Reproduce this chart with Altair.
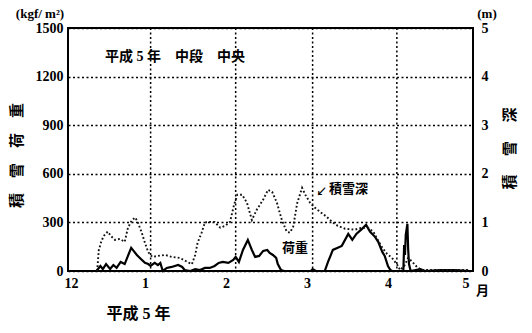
import altair as alt
import pandas as pd

# ---- data (x in months from 1 Dec; load in kgf/m2; depth in m) ----
load_month = [0.35, 0.40, 0.43, 0.47, 0.52, 0.56, 0.60, 0.65, 0.70, 0.74, 0.78, 0.81, 0.85, 0.90, 0.95,
              0.99, 1.02, 1.07, 1.11, 1.14, 1.17, 1.22, 1.28, 1.36, 1.41, 1.44, 1.51, 1.57, 1.63, 1.69,
              1.75, 1.81, 1.86, 1.91, 1.98, 2.04, 2.07, 2.11, 2.16, 2.22, 2.27, 2.31, 2.36, 2.41, 2.46,
              2.49, 2.53, 2.57, 2.59, 2.63, 2.67, 3.00, 3.02, 3.06, 3.17, 3.21, 3.27, 3.38, 3.46, 3.51,
              3.56, 3.63, 3.68, 3.73, 3.79, 3.83, 3.88, 3.91, 3.95, 3.98, 4.00, 4.14, 4.15, 4.16, 4.17,
              4.19, 4.20, 4.21, 4.23, 4.35, 4.41, 4.59, 4.78, 4.96]
load_kgf = [0, 31, 12, 43, 12, 37, 19, 56, 43, 93, 143, 124, 99, 74, 50,
            43, 31, 50, 37, 50, 0, 19, 25, 37, 25, 6, 0, 12, 6, 19,
            19, 31, 50, 56, 50, 68, 87, 56, 130, 192, 130, 87, 93, 124, 130,
            112, 99, 81, 43, 6, 0, 0, 12, 0, 0, 56, 130, 155, 229, 192,
            229, 260, 285, 242, 211, 180, 118, 93, 31, 6, 0, 0, 161, 99, 223,
            291, 130, 43, 0, 12, 0, 6, 6, 0]

depth_month = [0.36, 0.38, 0.41, 0.44, 0.49, 0.53, 0.58, 0.64, 0.70, 0.74, 0.79, 0.83, 0.86, 0.91, 0.95,
               0.99, 1.04, 1.11, 1.20, 1.28, 1.38, 1.47, 1.53, 1.57, 1.60, 1.65, 1.69, 1.75, 1.81, 1.88,
               1.94, 2.00, 2.05, 2.09, 2.15, 2.21, 2.27, 2.33, 2.41, 2.47, 2.52, 2.58, 2.64, 2.70, 2.74,
               2.78, 2.83, 2.89, 2.93, 2.99, 3.05, 3.11, 3.19, 3.26, 3.33, 3.42, 3.54, 3.63, 3.70, 3.77,
               3.81, 3.88, 3.94, 4.00, 4.06, 4.10, 4.15, 4.20, 4.25, 4.31, 4.37, 4.47, 4.65, 4.96]
depth_m = [0.00, 0.43, 0.60, 0.72, 0.81, 0.72, 0.64, 0.66, 0.60, 0.89, 1.05, 1.10, 1.01, 0.79, 0.58,
           0.39, 0.29, 0.31, 0.33, 0.29, 0.27, 0.19, 0.14, 0.33, 0.58, 0.79, 1.00, 1.01, 1.01, 0.89,
           0.93, 1.01, 1.36, 1.57, 1.57, 1.40, 1.05, 1.26, 1.47, 1.67, 1.63, 1.40, 1.05, 0.81, 0.79,
           0.91, 1.40, 1.71, 1.57, 1.40, 1.30, 1.22, 1.12, 1.01, 0.93, 0.87, 0.85, 0.89, 0.89, 0.81,
           0.68, 0.48, 0.35, 0.27, 0.14, 0.02, 0.10, 0.27, 0.19, 0.08, 0.02, 0.02, 0.02, 0.02]

grid_month = [1.02, 2.07, 3.02, 4.06]
x_ticks = [0, 1, 2, 3, 4, 5]
left_ticks = [0, 300, 600, 900, 1200, 1500]
right_ticks = [0, 1, 2, 3, 4, 5]

SERIF = "Liberation Serif, Noto Sans CJK JP"
CJK = "Noto Sans CJK JP"

load_df = pd.DataFrame({"m": load_month, "v": load_kgf})
depth_df = pd.DataFrame({"m": depth_month, "d": depth_m})
grid_df = pd.DataFrame({"m": grid_month})

xscale = alt.Scale(domain=[0, 5], nice=False, zero=False)

x_axis = alt.Axis(values=x_ticks,
                  labelExpr="datum.value == 0 ? '12' : format(datum.value, 'd')",
                  grid=False, ticks=False, domain=False,
                  labelFont=SERIF, labelFontSize=14, labelFontWeight="bold", labelColor="black",
                  labelPadding=5, labelOffset=-4,
                  title="平成 5 年", titleFont=SERIF, titleFontSize=16, titleFontWeight="bold",
                  titleColor="black", titleX=70, titleY=42, titleAlign="center", titleBaseline="middle")

left_axis = alt.Axis(values=left_ticks, format="d", grid=True, gridDash=[2, 2.5], gridColor="black",
                     gridWidth=1.5, ticks=False, domain=False,
                     labelFont=SERIF, labelFontSize=14, labelFontWeight="bold", labelColor="black",
                     labelPadding=5,
                     title="積　雪　荷　重", titleFont=CJK, titleFontSize=15, titleFontWeight="bold",
                     titleColor="black", titleAngle=270, titleX=-52, titleY=127,
                     titleAlign="center", titleBaseline="middle")

right_axis = alt.Axis(orient="right", values=right_ticks, format="d", grid=False, ticks=False,
                      domain=False,
                      labelFont=SERIF, labelFontSize=14, labelFontWeight="bold", labelColor="black",
                      labelPadding=8,
                      title="積　 雪　 深", titleFont=CJK, titleFontSize=15, titleFontWeight="bold",
                      titleColor="black", titleAngle=270, titleX=36, titleY=120,
                      titleAlign="center", titleBaseline="middle")

xenc = alt.X("m:Q", scale=xscale, axis=x_axis)

vgrid = alt.Chart(grid_df).mark_rule(color="black", strokeWidth=1.5, strokeDash=[2, 2.5]).encode(
    x=xenc
)

load = alt.Chart(load_df).mark_line(color="black", strokeWidth=2.2).encode(
    x=xenc,
    y=alt.Y("v:Q", scale=alt.Scale(domain=[0, 1500], nice=False), axis=left_axis),
)

depth = alt.Chart(depth_df).mark_line(color="#111111", strokeWidth=1.9, strokeDash=[1.8, 2.2]).encode(
    x=xenc,
    y=alt.Y("d:Q", scale=alt.Scale(domain=[0, 5], nice=False), axis=right_axis),
)


def label(text, x, y, size=13, font=CJK, align="left"):
    one = pd.DataFrame({"t": [text]})
    return alt.Chart(one).mark_text(font=font, fontSize=size, fontWeight="bold",
                                    color="black", align=align, baseline="middle").encode(
        x=alt.value(x), y=alt.value(y), text="t:N")


texts = [
    label("平成 5 年　中段　中央", 37, 29, 14, SERIF),
    label("↙", 248, 165, 11),
    label("積雪深", 261, 161, 13),
    label("荷重", 214, 220, 13),
    label("(kgf/ m²)", -28, -14, 13, SERIF, "center"),
    label("(m)", 419, -14, 13, SERIF, "center"),
    label("月", 408, 263, 13, CJK),
]

chart = alt.layer(vgrid, load, depth, *texts).resolve_scale(y="independent").properties(
    width=405, height=243,
    padding={"left": 68, "top": 28, "right": 59, "bottom": 62},
    autosize=alt.AutoSizeParams(type="none"),
).configure_view(stroke="black", strokeWidth=2)

chart.save("out.html", embed_options={"renderer": "svg", "actions": False})
